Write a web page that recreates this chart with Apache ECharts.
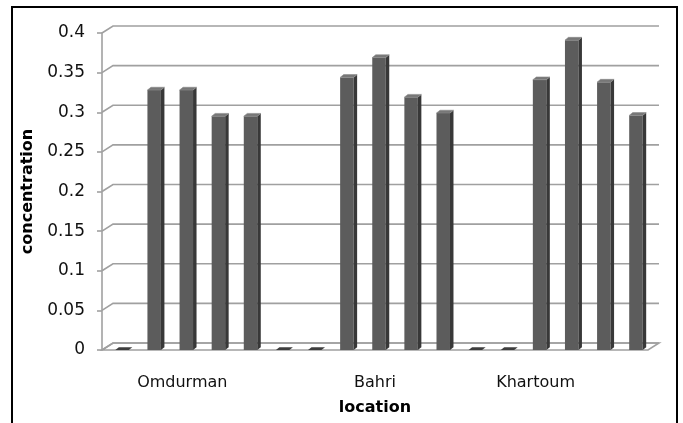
<!DOCTYPE html>
<html>
<head>
<meta charset="utf-8">
<script src="https://cdn.jsdelivr.net/npm/echarts@6/dist/echarts.min.js"></script>
<style>
  html, body { margin: 0; padding: 0; background: #fff; }
  #chart { width: 683px; height: 423px; }
</style>
</head>
<body>
<div id="chart"></div>
<script>
// Sampling slots along the x axis; only the slot under each location name carries a label
const slotLabels = ['', '', 'Omdurman', '', '', '', '', '', 'Bahri', '', '', '', '', 'Khartoum', '', '', ''];
// Measured concentration for each slot
const concentration = [0, 0.328, 0.328, 0.295, 0.295, 0, 0, 0.344, 0.369, 0.319, 0.299, 0, 0, 0.341, 0.391, 0.338, 0.296];
// Value axis ticks
const yTicks = [0, 0.05, 0.1, 0.15, 0.2, 0.25, 0.3, 0.35, 0.4];

const chart = echarts.init(document.getElementById('chart'));

// pseudo-3D depth of the walls / floor
const WALL_DX = 11, WALL_DY = -7;
// pseudo-3D depth of each column
const BAR_DX = 3.5, BAR_DY = -2.8;
const GRID_COLOR = '#a0a0a0';
const FONT = '"DejaVu Sans", "Open Sans", sans-serif';

function renderWall(params, api) {
  const cs = params.coordSys;
  const t = api.value(1);
  const y = api.coord([0, t])[1];
  const x0 = cs.x, x1 = cs.x + cs.width;
  const children = [];
  if (t === 0) {
    children.push({
      type: 'polygon',
      shape: { points: [[x0, y], [x1, y], [x1 + WALL_DX, y + WALL_DY], [x0 + WALL_DX, y + WALL_DY]] },
      style: { fill: '#ffffff', stroke: GRID_COLOR, lineWidth: 1.6 }
    });
  }
  children.push({
    type: 'polyline',
    shape: { points: [[x0, y], [x0 + WALL_DX, y + WALL_DY], [x1 + WALL_DX, y + WALL_DY]] },
    style: { fill: null, stroke: GRID_COLOR, lineWidth: 1.6 }
  });
  return { type: 'group', children: children };
}

function renderBar(params, api) {
  const i = api.value(0), v = api.value(1);
  const base = api.coord([i, 0]);
  const top = api.coord([i, v]);
  const w = api.size([1, 0])[0] * 0.42;
  const xl = base[0] + 4 - w / 2, xr = xl + w;
  const yb = base[1], yt = top[1];
  const topFace = {
    type: 'polygon',
    shape: { points: [[xl, yt], [xr, yt], [xr + BAR_DX, yt + BAR_DY], [xl + BAR_DX, yt + BAR_DY]] },
    style: { fill: v > 0 ? '#777777' : '#3d3d3d', stroke: v > 0 ? '#8a8a8a' : null, lineWidth: 0.6 }
  };
  if (v <= 0) return { type: 'group', children: [topFace] };
  return {
    type: 'group',
    children: [
      {
        type: 'rect',
        shape: { x: xl, y: yt, width: w, height: yb - yt },
        style: { fill: '#5c5c5c' }
      },
      {
        type: 'polygon',
        shape: { points: [[xr, yt], [xr + BAR_DX, yt + BAR_DY], [xr + BAR_DX, yb + BAR_DY], [xr, yb]] },
        style: { fill: '#383838' }
      },
      topFace
    ]
  };
}

chart.setOption({
  animation: false,
  backgroundColor: '#ffffff',
  grid: { left: 102, right: 35, top: 33, bottom: 73, containLabel: false },
  xAxis: {
    type: 'category',
    data: slotLabels,
    name: 'location',
    nameLocation: 'middle',
    nameGap: 50,
    nameTextStyle: { fontFamily: FONT, fontSize: 16, fontWeight: 'bold', color: '#000' },
    axisLine: { show: false },
    axisTick: { show: false },
    axisLabel: { interval: 0, margin: 25, fontFamily: FONT, fontSize: 16, color: '#111' },
    splitLine: { show: false }
  },
  yAxis: {
    type: 'value',
    min: 0,
    max: 0.4,
    interval: 0.05,
    name: 'concentration',
    nameLocation: 'middle',
    nameRotate: 90,
    nameGap: 61,
    nameTextStyle: { fontFamily: FONT, fontSize: 16, fontWeight: 'bold', color: '#000' },
    axisLine: { show: true, lineStyle: { color: GRID_COLOR, width: 1.6 } },
    axisTick: { show: true, length: 5, lineStyle: { color: GRID_COLOR, width: 1.6 } },
    axisLabel: { margin: 17, fontFamily: FONT, fontSize: 17, color: '#111' },
    splitLine: { show: false }
  },
  graphic: [{
    type: 'rect',
    shape: { x: 12, y: 7, width: 665, height: 430 },
    style: { fill: null, stroke: '#000', lineWidth: 2 },
    silent: true
  }],
  series: [
    {
      type: 'custom',
      name: 'walls',
      renderItem: renderWall,
      data: yTicks.map(t => [0, t]),
      z: 1,
      silent: true
    },
    {
      type: 'custom',
      name: 'concentration',
      renderItem: renderBar,
      data: concentration.map((v, i) => [i, v]),
      z: 3
    }
  ]
});
</script>
</body>
</html>
